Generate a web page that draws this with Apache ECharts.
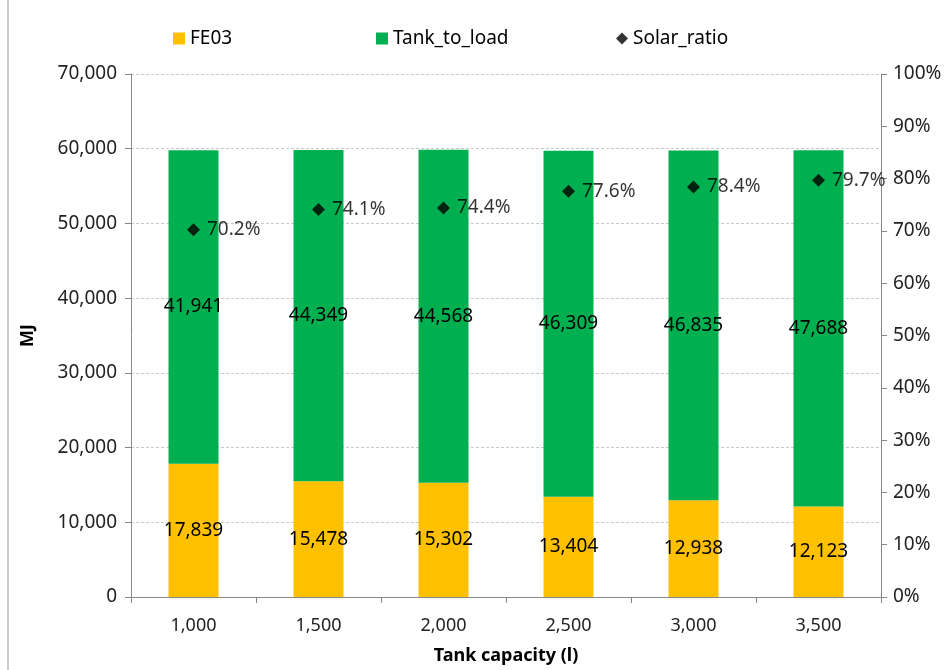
<!DOCTYPE html>
<html lang="en">
<head>
    <meta charset="UTF-8">
    <title>Tank capacity</title>
    <style>
        html, body { margin: 0; padding: 0; background: #fff; }
        #chart { width: 950px; height: 670px; }
    </style>
</head>
<body>
<div id="chart"></div>
<script src="https://cdn.jsdelivr.net/npm/echarts@6/dist/echarts.min.js"></script>
<script>
    const categories = ['1,000', '1,500', '2,000', '2,500', '3,000', '3,500'];
    const fe03 = [17839, 15478, 15302, 13404, 12938, 12123];
    const tankToLoad = [41941, 44349, 44568, 46309, 46835, 47688];
    const solarRatio = [70.2, 74.1, 74.4, 77.6, 78.4, 79.7];

    const font = '"Noto Sans", "Open Sans", sans-serif';
    const fmt = v => v.toLocaleString('en-US');

    let chart = echarts.init(document.getElementById('chart'));

    const legendText = { fontSize: 19, color: '#000', fontFamily: font };

    let option = {
        animation: false,
        textStyle: { fontFamily: font },
        legend: [
            { data: [{ name: 'FE03', icon: 'rect' }], left: 168, top: 24, itemWidth: 12, itemHeight: 12, textStyle: legendText },
            { data: [{ name: 'Tank_to_load', icon: 'rect' }], left: 371, top: 24, itemWidth: 12, itemHeight: 12, textStyle: legendText },
            { data: ['Solar_ratio'], left: 611, top: 24, itemWidth: 12, itemHeight: 12, textStyle: legendText }
        ],
        grid: { left: 131, right: 69, top: 74, bottom: 73 },
        graphic: [{
            type: 'line',
            shape: { x1: 8, y1: 0, x2: 8, y2: 670 },
            style: { stroke: '#999', lineWidth: 1 }
        }],
        xAxis: {
            type: 'category',
            data: categories,
            name: 'Tank capacity (l)',
            nameLocation: 'middle',
            nameGap: 50,
            nameTextStyle: { fontSize: 18, fontWeight: 'bold', color: '#000' },
            axisLine: { lineStyle: { color: '#888' } },
            axisTick: { show: true, length: 6, lineStyle: { color: '#888' } },
            axisLabel: { fontSize: 18, color: '#222', margin: 20 }
        },
        yAxis: [{
            type: 'value',
            min: 0,
            max: 70000,
            interval: 10000,
            name: 'MJ',
            nameLocation: 'middle',
            nameGap: 94,
            nameRotate: 90,
            nameTextStyle: { fontSize: 18, fontWeight: 'bold', color: '#000' },
            axisLine: { show: true, lineStyle: { color: '#888' } },
            axisTick: { show: true, length: 6, lineStyle: { color: '#888' } },
            axisLabel: { fontSize: 19, color: '#222', margin: 14, formatter: v => fmt(v) },
            splitLine: { lineStyle: { color: '#c8c8c8', type: [3, 2] } }
        }, {
            type: 'value',
            min: 0,
            max: 100,
            interval: 10,
            axisLine: { show: true, lineStyle: { color: '#888' } },
            axisTick: { show: true, length: 6, lineStyle: { color: '#888' } },
            axisLabel: { fontSize: 19, color: '#222', margin: 12, formatter: '{value}%' },
            splitLine: { show: false }
        }],
        series: [{
            name: 'FE03',
            type: 'bar',
            stack: 'total',
            data: fe03,
            barWidth: 50,
            itemStyle: { color: '#FFC000' },
            label: {
                show: true, position: 'inside', fontSize: 19, color: '#000',
                formatter: p => fmt(p.value)
            }
        }, {
            name: 'Tank_to_load',
            type: 'bar',
            stack: 'total',
            data: tankToLoad,
            barWidth: 50,
            itemStyle: { color: '#00B050' },
            label: {
                show: true, position: 'inside', fontSize: 19, color: '#000',
                formatter: p => fmt(p.value)
            }
        }, {
            name: 'Solar_ratio',
            type: 'scatter',
            yAxisIndex: 1,
            data: solarRatio,
            symbol: 'diamond',
            symbolSize: 13,
            itemStyle: { color: '#000' },
            label: {
                show: true, position: 'right', distance: 7, fontSize: 19, color: '#000',
                formatter: p => p.value.toFixed(1) + '%'
            },
            z: 5
        }]
    };

    chart.setOption(option);
</script>
</body>
</html>
